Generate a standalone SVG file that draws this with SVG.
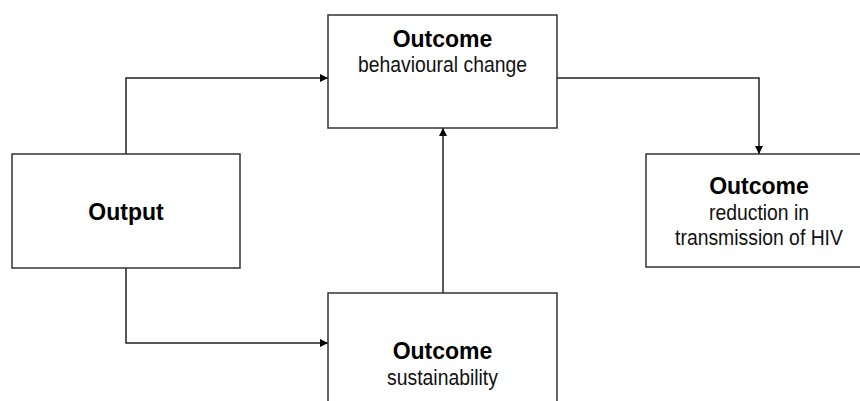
<svg xmlns="http://www.w3.org/2000/svg" width="860" height="401" viewBox="0 0 860 401">
<defs>
<marker id="ah" viewBox="0 0 10 10" refX="10" refY="5" markerWidth="8" markerHeight="8" markerUnits="userSpaceOnUse" orient="auto">
<path d="M0,0 L10,5 L0,10 z" fill="#000"/>
</marker>
<style>
.box{fill:#fff;stroke:#333;stroke-width:1.5}
.conn{fill:none;stroke:#222;stroke-width:1.5;marker-end:url(#ah)}
.b{font-family:"Liberation Sans",Arial,sans-serif;font-weight:bold;font-size:23px;text-anchor:middle;fill:#000}
.r{font-family:"Liberation Sans",Arial,sans-serif;font-size:22px;text-anchor:middle;fill:#111}
</style>
</defs>
<g id="connectors">
<path class="conn" d="M126,154 V78 H328"/>
<path class="conn" d="M126,268 V343 H328"/>
<path class="conn" d="M443,293 V128"/>
<path class="conn" d="M557,78 H759 V154"/>
</g>
<g id="output">
<rect class="box" x="12" y="154" width="228" height="114"/>
<text class="b" x="126" y="220">Output</text>
</g>
<g id="behaviour">
<rect class="box" x="328" y="15" width="229" height="113"/>
<text class="b" x="442.5" y="47">Outcome</text>
<text class="r" transform="translate(442.5,72) scale(0.88,1)">behavioural change</text>
</g>
<g id="hiv">
<rect class="box" x="646" y="154" width="230" height="113"/>
<text class="b" x="759" y="194">Outcome</text>
<text class="r" transform="translate(759,220) scale(0.88,1)">reduction in</text>
<text class="r" transform="translate(759,245) scale(0.88,1)">transmission of HIV</text>
</g>
<g id="sustainability">
<rect class="box" x="328" y="293" width="229" height="130"/>
<text class="b" x="442.5" y="359">Outcome</text>
<text class="r" transform="translate(442.5,385) scale(0.88,1)">sustainability</text>
</g>
</svg>
